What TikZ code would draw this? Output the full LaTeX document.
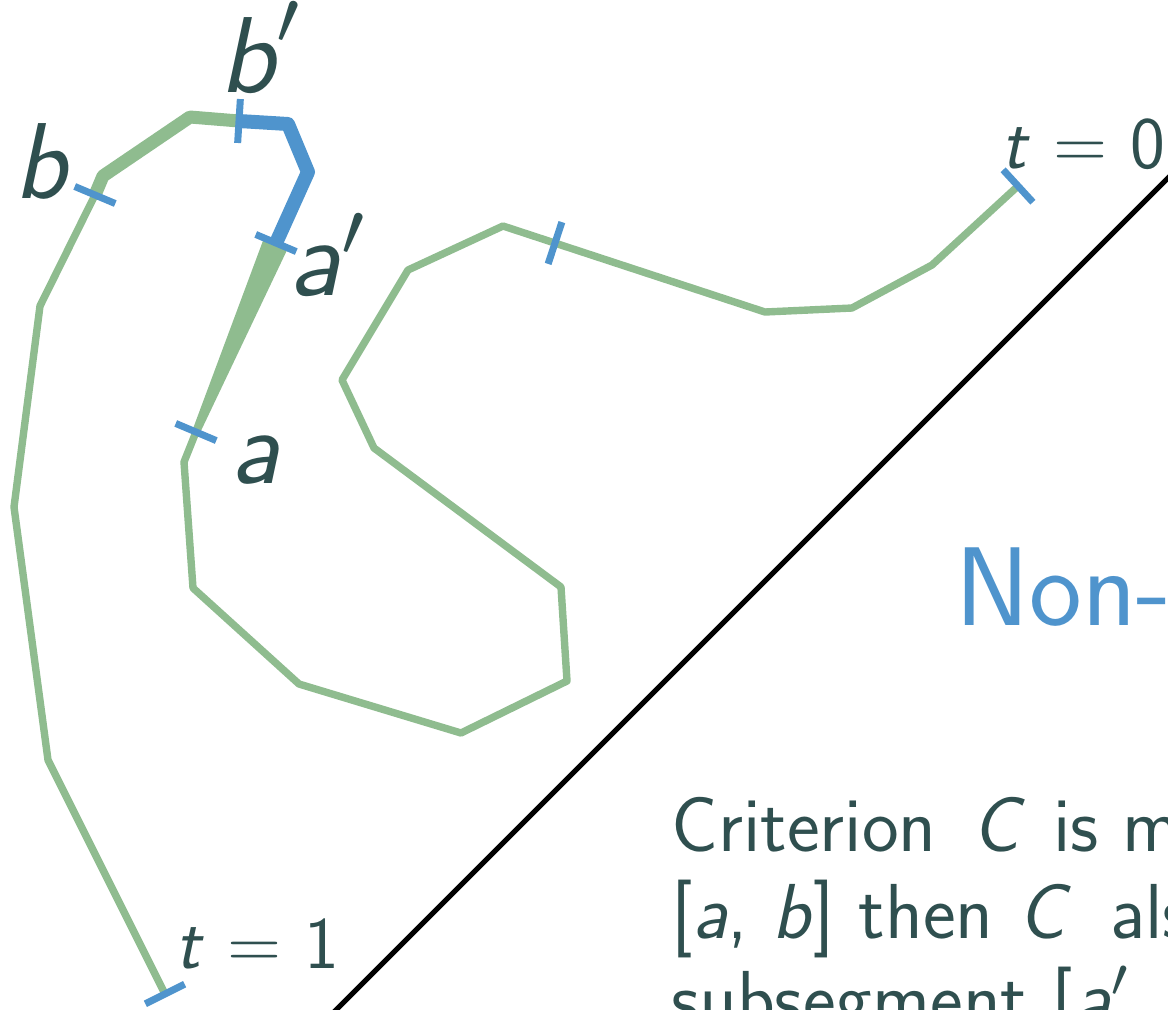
\documentclass[tikz,border=0pt]{standalone}
\usepackage{fontspec}
\usepackage{tikz}
\usetikzlibrary{calc}
\definecolor{txt}{HTML}{2F4F4F}
\definecolor{gruen}{HTML}{8FBC8F}
\definecolor{blau}{HTML}{4F94CD}
\tikzset{
  seg/.style={gruen,line width=3.7pt,line join=round},
  segd/.style={gruen,line width=6.5pt,line join=round},
  segb/.style={blau,line width=7pt,line join=round},
  tick/.style={blau,line width=3.5pt},
  diag/.style={black,line width=2.5pt},
  lbl/.style={txt,inner sep=0pt,anchor=base west,font=\sffamily\fontsize{54}{60}\selectfont},
  tlbl/.style={txt,inner sep=0pt,anchor=base west,font=\sffamily\fontsize{37}{44}\selectfont},
  body/.style={txt,inner sep=0pt,anchor=base west,font=\sffamily\fontsize{39}{45}\selectfont},
  titel/.style={blau,inner sep=0pt,anchor=base west,font=\sffamily\fontsize{56}{64}\selectfont},
}
\newcommand{\tk}[2]{\draw[tick] ($(#1)!11pt!90:(#2)$) -- ($(#1)!11pt!-90:(#2)$);}
\newcommand{\pri}[2]{\scalebox{#1}{\fontsize{10}{12}\selectfont$\mbox{\sffamily\itshape #2}'$}}
\newcommand{\cC}[2]{ \hspace{#1}\textit{C}\hspace{#2} }

\begin{document}
\begin{tikzpicture}[x=0.5pt,y=-0.5pt]
  \useasboundingbox (0,0) rectangle (1168,1009);
  \clip (0,0) rectangle (1168,1009);
  \coordinate (t1) at (165,994);
  \coordinate (b) at (95,195);
  \coordinate (bp) at (239,121);
  \coordinate (ap) at (276,243);
  \coordinate (a) at (196,432);
  \coordinate (m) at (555,243);
  \coordinate (t0) at (1018,186);
  \draw[diag] (327,1019) -- (1178,168);
  \draw[seg] (t1) -- (48,760) -- (14,507) -- (40,306) -- (b);
  \draw[segd] (b) -- (103,176) -- (190,117) -- (bp);
  \draw[segb] (bp) -- (288,124) -- (308,172) -- (ap);
  \fill[gruen] ($(ap)!6.5pt!90:(a)$) -- ($(a)!2pt!-90:(ap)$)
    -- ($(a)!2pt!90:(ap)$) -- ($(ap)!6.5pt!-90:(a)$) -- cycle;
  \draw[seg] (a) -- (184,462) -- (193,588) -- (299,684) -- (461,733)
    -- (567,681) -- (561,587) -- (374,448) -- (342,380) -- (408,270)
    -- (503,226) -- (765,312) -- (852,308) -- (932,265) -- (t0);
  \tk{t1}{48,760}
  \tk{b}{103,176}
  \tk{bp}{288,124}
  \tk{ap}{a}
  \tk{a}{ap}
  \tk{m}{765,312}
  \tk{t0}{932,265}
  \node[lbl] (lb) at (14,198) {\textit{b}};
  \node[lbl] (lbp) at (219,92) {\pri{5.4}{b}};
  \node[lbl] (lap) at (288,295) {\pri{5.4}{a}};
  \node[lbl] (la) at (230,483) {\textit{a}};
  \node[tlbl] (lt1) at (175,968) {\textit{t} = 1};
  \node[tlbl] (lt0) at (1001,168) {\textit{t} = 0};
  \node[titel] (ueber) at (955,625) {Non-};
  \node[body] (z1) at (671,851) {Criterion\cC{6pt}{1.5pt}is m};
  \node[body] (z2) at (671,938) {[\textit{a}, \textit{b}] then\cC{0pt}{7.5pt}als};
  \node[body] (z3) at (671,1025) {subsegment [\pri{3.9}{a}};
\end{tikzpicture}
\end{document}
